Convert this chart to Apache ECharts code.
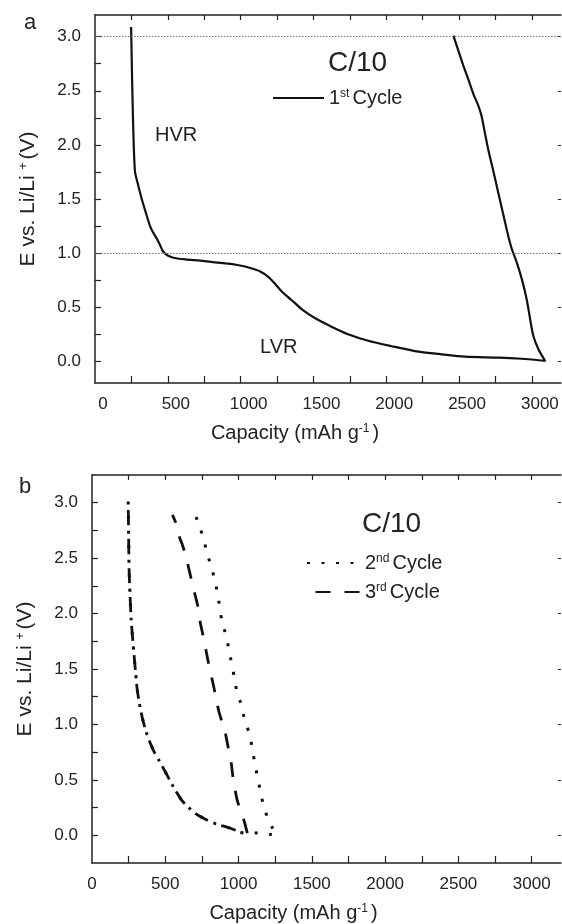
<!DOCTYPE html>
<html>
<head>
<meta charset="utf-8">
<script src="https://cdn.jsdelivr.net/npm/echarts@6/dist/echarts.min.js"></script>
<style>
  html, body { margin: 0; padding: 0; background: #fff; }
  #chart { width: 562px; height: 924px; }
</style>
</head>
<body>
<div id="chart"></div>
<script>
// panel a - 1st cycle (capacity mAh/g, potential V)
const cyc1Cap = [248, 252, 258, 266, 275, 294, 321, 350, 378, 399, 426, 448, 465, 485, 510, 545, 620, 722, 812, 900, 977, 1060, 1135, 1190, 1227, 1273, 1320, 1371, 1430, 1509, 1624, 1738, 1876, 2036, 2197, 2380, 2541, 2770, 2931, 3020, 3092,
                 3046, 3011, 2988, 2965, 2931, 2897, 2862, 2843, 2810, 2779, 2740, 2700, 2676, 2654, 2630, 2601, 2565, 2530, 2461];
const cyc1Volt = [3.09, 2.8, 2.4, 2.0, 1.75, 1.64, 1.5, 1.37, 1.25, 1.19, 1.13, 1.07, 1.02, 0.99, 0.97, 0.955, 0.942, 0.93, 0.917, 0.905, 0.89, 0.865, 0.83, 0.78, 0.73, 0.66, 0.6, 0.54, 0.47, 0.40, 0.32, 0.25, 0.19, 0.14, 0.095, 0.065, 0.043, 0.034, 0.024, 0.015, 0.003,
                  0.11, 0.23, 0.39, 0.57, 0.76, 0.91, 1.04, 1.13, 1.32, 1.5, 1.73, 1.96, 2.12, 2.27, 2.37, 2.46, 2.6, 2.73, 3.01];

// panel b - shared discharge branch of 2nd and 3rd cycles
const dischCap = [247, 250, 253, 260, 267, 277, 288, 298, 308, 322, 345, 370, 395, 425, 460, 493, 550, 610, 660, 712, 780, 849, 930, 1007, 1062];
const dischVolt = [3.01, 2.7, 2.4, 2.15, 1.95, 1.78, 1.61, 1.46, 1.32, 1.2, 1.05, 0.93, 0.84, 0.75, 0.67, 0.59, 0.45, 0.32, 0.25, 0.19, 0.14, 0.10, 0.07, 0.03, 0.01];

// 2nd cycle tail + charge
const cyc2Cap = [1110, 1154, 1210, 1256, 1230, 1206, 1170, 1147, 1127, 1108, 1093, 1070, 1040, 1018, 988, 972, 933, 916, 888, 858, 836, 813, 783, 761, 729, 692];
const cyc2Volt = [0.02, 0.025, 0.01, 0.0, 0.07, 0.13, 0.27, 0.41, 0.54, 0.67, 0.79, 0.93, 1.05, 1.18, 1.30, 1.42, 1.68, 1.80, 1.92, 2.17, 2.31, 2.43, 2.55, 2.68, 2.80, 2.94];

// 3rd cycle charge
const cyc3Cap = [1050, 1038, 1020, 990, 978, 965, 950, 925, 910, 885, 863, 845, 824, 800, 779, 758, 737, 720, 703, 686, 658, 631, 614, 597, 583, 549];
const cyc3Volt = [0.07, 0.13, 0.2, 0.32, 0.40, 0.49, 0.65, 0.82, 0.92, 1.03, 1.13, 1.25, 1.38, 1.52, 1.66, 1.8, 1.93, 2.08, 2.17, 2.26, 2.42, 2.56, 2.63, 2.69, 2.78, 2.89];

const refLines = [3.0, 1.0];

const xLabelVals = [0, 500, 1000, 1500, 2000, 2500, 3000];
const xTickVals = [250, 500, 750, 1000, 1250, 1500, 1750, 2000, 2250, 2500, 2750, 3000];
const yLabelVals = [0, 0.5, 1.0, 1.5, 2.0, 2.5, 3.0];
const yTickVals = [0, 0.25, 0.5, 0.75, 1.0, 1.25, 1.5, 1.75, 2.0, 2.25, 2.5, 2.75, 3.0];

function pairs(xs, ys) {
  return xs.map(function (x, i) { return [x, ys[i]]; });
}

const FONT = "'Liberation Sans', Arial, sans-serif";
const INK = '#222';
const supRich = {
  sup: { fontSize: 12, fontFamily: FONT, color: INK, verticalAlign: 'top', padding: [0, 3, 8, 0] }
};

var dom = document.getElementById('chart');
var myChart = echarts.init(dom, null, { renderer: 'canvas' });

function bottomAxis(grid, shift) {
  return {
    type: 'value', gridIndex: grid, position: 'bottom', min: 0, max: 3200,
    name: 'Capacity (mAh g{sup|-1})', nameLocation: 'middle', nameGap: 40,
    nameTextStyle: { fontFamily: FONT, fontSize: 20, color: INK, padding: [0, 66, 0, 0], rich: supRich },
    axisLine: { onZero: false, lineStyle: { color: INK, width: 1.5 } },
    axisTick: { inside: true, length: 7, customValues: xTickVals, lineStyle: { color: INK, width: 1.2 } },
    axisLabel: { customValues: xLabelVals, margin: 13, fontFamily: FONT, fontSize: 17, color: INK, padding: [0, 0, 0, shift],
      formatter: function (v) { return String(v); } },
    splitLine: { show: false }
  };
}
function topAxis(grid) {
  return {
    type: 'value', gridIndex: grid, position: 'top', min: 0, max: 3200,
    axisLine: { onZero: false, lineStyle: { color: INK, width: 1.5 } },
    axisTick: { inside: true, length: 5, customValues: xTickVals, lineStyle: { color: INK, width: 1.2 } },
    axisLabel: { show: false },
    splitLine: { show: false }
  };
}
function leftAxis(grid, lo, hi) {
  return {
    type: 'value', gridIndex: grid, position: 'left', min: lo, max: hi,
    name: 'E vs. Li/Li {sup|+}(V)', nameLocation: 'middle', nameRotate: 90, nameGap: 56,
    nameTextStyle: { fontFamily: FONT, fontSize: 21, color: INK, rich: supRich },
    axisLine: { onZero: false, lineStyle: { color: INK, width: 1.5 } },
    axisTick: { inside: true, length: 6, customValues: yTickVals, lineStyle: { color: INK, width: 1.2 } },
    axisLabel: { customValues: yLabelVals, margin: 14, fontFamily: FONT, fontSize: 17, color: INK,
      formatter: function (v) { return v.toFixed(1); } },
    splitLine: { show: false }
  };
}
function rightAxis(grid, lo, hi) {
  return {
    type: 'value', gridIndex: grid, position: 'right', min: lo, max: hi,
    axisLine: { show: false, onZero: false },
    axisTick: { inside: true, length: 3, customValues: yLabelVals, lineStyle: { color: INK, width: 1 } },
    axisLabel: { show: false },
    splitLine: { show: false }
  };
}

const legendNames = {
  '1st Cycle': '1{sup|st}Cycle',
  '2nd Cycle': '2{sup|nd}Cycle',
  '3rd Cycle': '3{sup|rd}Cycle'
};

var option = {
  backgroundColor: '#fff',
  animation: false,
  textStyle: { fontFamily: FONT },
  grid: [
    { left: 95, top: 15, width: 466, height: 368 },
    { left: 92, top: 475, width: 469, height: 388 }
  ],
  xAxis: [bottomAxis(0, 16), topAxis(0), bottomAxis(1, 0), topAxis(1)],
  yAxis: [leftAxis(0, -0.2, 3.2), rightAxis(0, -0.2, 3.2), leftAxis(1, -0.25, 3.25), rightAxis(1, -0.25, 3.25)],
  legend: [
    {
      data: ['1st Cycle'], left: 272, top: 88, padding: 0, itemWidth: 51, itemHeight: 14,
      itemStyle: { opacity: 0 },
      formatter: function (n) { return legendNames[n]; },
      textStyle: { fontFamily: FONT, fontSize: 20, color: INK, rich: supRich }
    },
    {
      data: ['2nd Cycle', '3rd Cycle'], orient: 'vertical', left: 306, top: 553, padding: 0,
      itemWidth: 53, itemHeight: 14, itemGap: 9,
      itemStyle: { opacity: 0 },
      formatter: function (n) { return legendNames[n]; },
      textStyle: { fontFamily: FONT, fontSize: 20, color: INK, rich: supRich }
    }
  ],
  graphic: [
    { type: 'text', left: 24, top: 12, style: { text: 'a', font: '22px ' + FONT, fill: INK } },
    { type: 'text', left: 19, top: 476, style: { text: 'b', font: '22px ' + FONT, fill: INK } },
    { type: 'text', left: 328, top: 49, style: { text: 'C/10', font: '28px ' + FONT, fill: INK } },
    { type: 'text', left: 362, top: 510, style: { text: 'C/10', font: '28px ' + FONT, fill: INK } },
    { type: 'text', left: 155, top: 125, style: { text: 'HVR', font: '20px ' + FONT, fill: INK } },
    { type: 'text', left: 260, top: 337, style: { text: 'LVR', font: '20px ' + FONT, fill: INK } }
  ],
  series: [
    {
      name: '1st Cycle', type: 'line', xAxisIndex: 0, yAxisIndex: 0,
      data: pairs(cyc1Cap, cyc1Volt), symbol: 'none', smooth: 0.25,
      itemStyle: { color: '#111' },
      lineStyle: { color: '#111', width: 2.2 },
      markLine: {
        silent: true, symbol: ['none', 'none'], label: { show: false },
        lineStyle: { color: '#777', width: 1, type: [1.5, 1.5] },
        data: refLines.map(function (v) { return { yAxis: v }; })
      }
    },
    {
      name: '2nd Cycle', type: 'line', xAxisIndex: 2, yAxisIndex: 2,
      data: pairs(dischCap.concat(cyc2Cap), dischVolt.concat(cyc2Volt)), symbol: 'none', smooth: 0.25,
      itemStyle: { color: '#111' },
      lineStyle: { color: '#111', width: 3, type: [3, 11.5] }
    },
    {
      name: '3rd Cycle', type: 'line', xAxisIndex: 2, yAxisIndex: 2,
      data: pairs(dischCap.concat(cyc3Cap), dischVolt.concat(cyc3Volt)), symbol: 'none', smooth: 0.25,
      itemStyle: { color: '#111' },
      lineStyle: { color: '#111', width: 2.8, type: [15, 14], dashOffset: 20.5 }
    }
  ]
};

if (option && typeof option === 'object') {
  myChart.setOption(option);
}

window.addEventListener('resize', myChart.resize);
</script>
</body>
</html>
